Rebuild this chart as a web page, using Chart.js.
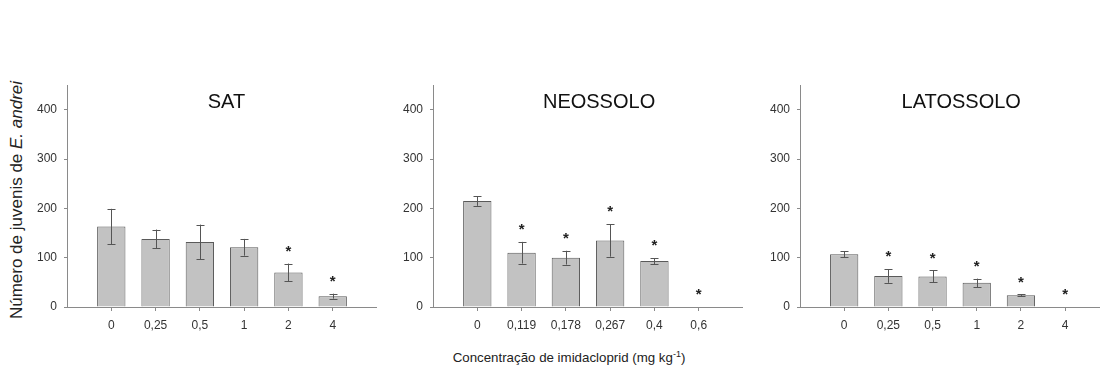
<!DOCTYPE html>
<html>
<head>
<meta charset="utf-8">
<script src="https://cdn.jsdelivr.net/npm/chart.js@4/dist/chart.umd.min.js"></script>
<style>
  body { margin: 0; width: 1100px; height: 369px; background: #fff; position: relative; overflow: hidden;
         font-family: "Liberation Sans", Arial, sans-serif; }
  .panel { position: absolute; top: 85px; height: 252px; }
  #ylab { position: absolute; left: 17px; top: 200px; transform: translate(-50%, -50%) rotate(-90deg);
          white-space: nowrap; font-size: 17px; color: #222; }
  #xlab { position: absolute; left: 569px; top: 357px; transform: translate(-50%, -50%);
          white-space: nowrap; font-size: 13.3px; color: #222; }
  #xlab sup { font-size: 9px; }
</style>
</head>
<body>
<div id="ylab">Número de juvenis de <i>E. andrei</i></div>
<div id="xlab">Concentração de imidacloprid (mg kg<sup>-1</sup>)</div>
<div class="panel" style="left:27px;width:350px"><canvas id="c1" width="350" height="252"></canvas></div>
<div class="panel" style="left:393px;width:350px"><canvas id="c2" width="350" height="252"></canvas></div>
<div class="panel" style="left:760px;width:340px"><canvas id="c3" width="340" height="252"></canvas></div>
<script>
// SAT
const satLabels = ['0', '0,25', '0,5', '1', '2', '4'];
const satMeans = [163, 138, 132, 121, 70, 22];
const satErrors = [36, 19, 35, 17, 18, 5];
const satStars = [false, false, false, false, true, true];

// NEOSSOLO
const neoLabels = ['0', '0,119', '0,178', '0,267', '0,4', '0,6'];
const neoMeans = [215, 110, 100, 135, 93, 0];
const neoErrors = [10, 22, 14, 33, 6, 0];
const neoStars = [false, true, true, true, true, true];

// LATOSSOLO
const latLabels = ['0', '0,25', '0,5', '1', '2', '4'];
const latMeans = [107, 63, 62, 49, 24, 0];
const latErrors = [6, 14, 12, 8.5, 1.5, 0];
const latStars = [false, true, true, true, true, true];

const yTicks = [0, 100, 200, 300, 400];

const axisGrey = '#8a8a8a';
const textGrey = '#333';

// error bars, asterisks and panel title
const extras = {
  id: 'extras',
  afterDatasetsDraw(chart) {
    const ctx = chart.ctx;
    const o = chart.options.plugins.extras;
    const meta = chart.getDatasetMeta(0);
    const y = chart.scales.y;
    ctx.save();
    ctx.strokeStyle = '#555';
    ctx.lineWidth = 1;
    meta.data.forEach(function (bar, i) {
      const m = o.means[i], e = o.errors[i];
      const px = Math.round(bar.x) + 0.5;
      const top = y.getPixelForValue(m + e);
      if (e > 0) {
        const bot = y.getPixelForValue(m - e);
        ctx.beginPath();
        ctx.moveTo(px, top); ctx.lineTo(px, bot);
        ctx.moveTo(px - 4, Math.round(top) + 0.5); ctx.lineTo(px + 4, Math.round(top) + 0.5);
        ctx.moveTo(px - 4, Math.round(bot) + 0.5); ctx.lineTo(px + 4, Math.round(bot) + 0.5);
        ctx.stroke();
      }
      if (o.stars[i]) {
        ctx.fillStyle = '#222';
        ctx.font = 'bold 15px "Liberation Sans", Arial';
        ctx.textAlign = 'center';
        ctx.textBaseline = 'middle';
        ctx.fillText('*', bar.x, top - 12);
      }
    });
    ctx.fillStyle = '#111';
    ctx.font = '20px "Liberation Sans", Arial';
    ctx.textAlign = 'center';
    ctx.textBaseline = 'middle';
    ctx.fillText(o.title, chart.scales.x.getPixelForValue(o.titleX), chart.chartArea.top + 17);
    ctx.restore();
  }
};

function makePanel(id, title, titleX, labels, means, errors, stars, xMax) {
  new Chart(document.getElementById(id), {
    type: 'bar',
    data: {
      datasets: [{
        data: means.map(function (v, i) { return { x: i + 1, y: v }; }),
        backgroundColor: '#c2c2c2',
        borderColor: '#5a5a5a',
        borderWidth: 1,
        barPercentage: 0.8,
        categoryPercentage: 0.8
      }]
    },
    options: {
      responsive: false,
      animation: false,
      devicePixelRatio: 1,
      layout: { padding: 0 },
      plugins: {
        legend: { display: false },
        tooltip: { enabled: false },
        extras: { title: title, titleX: titleX, means: means, errors: errors, stars: stars }
      },
      scales: {
        x: {
          type: 'linear',
          offset: false,
          min: 0,
          max: xMax,
          border: { color: axisGrey },
          grid: { offset: false, drawOnChartArea: false, tickLength: 4, color: axisGrey },
          ticks: {
            padding: 7, maxRotation: 0, autoSkip: false,
            color: textGrey, font: { size: 12, family: '"Liberation Sans", Arial' },
            callback: function (v) { return labels[v - 1] || ''; }
          },
          afterBuildTicks: function (s) {
            s.ticks = labels.map(function (l, i) { return { value: i + 1 }; });
          },
          afterFit: function (s) { s.height = 30; s.paddingLeft = 0; s.paddingRight = 0; }
        },
        y: {
          min: 0,
          max: 450,
          border: { color: axisGrey },
          grid: { drawOnChartArea: false, tickLength: 3, color: axisGrey },
          ticks: {
            padding: 7,
            color: textGrey, font: { size: 12, family: '"Liberation Sans", Arial' }
          },
          afterBuildTicks: function (s) {
            s.ticks = yTicks.map(function (v) { return { value: v }; });
          },
          afterFit: function (s) { s.width = 40; s.paddingTop = 0; s.paddingBottom = 0; }
        }
      }
    },
    plugins: [extras]
  });
}

makePanel('c1', 'SAT', 3.6, satLabels, satMeans, satErrors, satStars, 7);
makePanel('c2', 'NEOSSOLO', 3.75, neoLabels, neoMeans, neoErrors, neoStars, 7);
makePanel('c3', 'LATOSSOLO', 3.65, latLabels, latMeans, latErrors, latStars, 6.79);
</script>
</body>
</html>
